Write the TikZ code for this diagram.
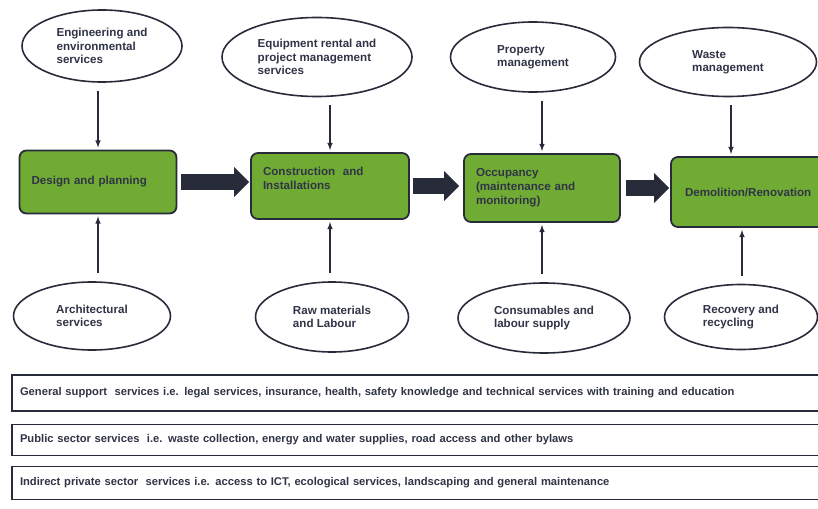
\documentclass[tikz,border=0pt]{standalone}
\usepackage{fontspec}
\setmainfont{Liberation Sans}
\usetikzlibrary{shapes.geometric,arrows.meta}
\definecolor{stagegreen}{RGB}{112,172,52}
\definecolor{inkline}{RGB}{40,44,58}
\definecolor{inktext}{RGB}{48,52,70}
\begin{document}
\begin{tikzpicture}[x=1pt,y=-1pt]
  \tikzstyle{every node}=[font=\bfseries\fontsize{11.6}{13.5}\selectfont, text=inktext]
  \tikzstyle{ell}=[ellipse, draw=inkline, line width=1.6pt, inner sep=0pt, align=left, fill=white]
  \tikzstyle{stage}=[rectangle, rounded corners=7pt, draw=inkline, fill=stagegreen, line width=1.8pt,
    inner xsep=12pt, inner ysep=0pt, align=left, font=\bfseries\fontsize{11.6}{14}\selectfont]
  \tikzstyle{band}=[rectangle, draw=inkline, line width=1.8pt, inner xsep=8pt, inner ysep=0pt,
    text width=802pt, align=left, font=\bfseries\fontsize{11.2}{13}\selectfont]
  \tikzstyle{feed}=[-latex, draw=inkline, line width=1.5pt, shorten <=8pt, shorten >=2pt]
  \tikzstyle{flow}=[-{Triangle[length=15pt,width=29pt]}, draw=inkline, line width=16pt]

  \path[use as bounding box, clip] (0,0) rectangle (818,508);
  \fill[white] (0,0) rectangle (818,508);

  \node[stage, text width=133pt, minimum height=63pt] (design) at (98,182) {Design and planning};
  \node[stage, text width=134pt, minimum height=66pt] (constr) at (330,186) {Construction~ and\\Installations\\[2pt]\mbox{}};
  \node[stage, text width=132pt, minimum height=68pt] (occup) at (542,188) {Occupancy\\(maintenance and\\monitoring)};
  \node[stage, text width=142pt, minimum height=70pt, inner xsep=14pt] (demo) at (756,192) {Demolition/Renovation};

  \node[ell, minimum width=160pt, minimum height=72pt] (eng) at (102,46) {Engineering and\\environmental\\services};
  \node[ell, minimum width=190pt, minimum height=79pt] (equip) at (317,57) {Equipment rental and\\project management\\services};
  \node[ell, minimum width=165pt, minimum height=70pt] (prop) at (533,57) {Property\\management};
  \node[ell, minimum width=177pt, minimum height=69pt] (waste) at (728,62) {Waste\\management};

  \node[ell, minimum width=157pt, minimum height=68pt] (arch) at (92,316) {Architectural\\services};
  \node[ell, minimum width=153pt, minimum height=70pt] (raw) at (332,317) {Raw materials\\and Labour};
  \node[ell, minimum width=172pt, minimum height=70pt] (cons) at (544,318) {Consumables and\\labour supply};
  \node[ell, minimum width=153pt, minimum height=65pt] (recov) at (741,317) {Recovery and\\recycling};

  \node[band, minimum height=36pt] (general) at (421,393) {General support~ services i.e. legal services, insurance, health, safety knowledge and technical services with training and education};
  \node[band, minimum height=31pt] (public) at (421,440) {Public sector services~ i.e. waste collection, energy and water supplies, road access and other bylaws};
  \node[band, minimum height=33pt] (indirect) at (421,483) {Indirect private sector~ services i.e. access to ICT, ecological services, landscaping and general maintenance};

  \coordinate (demotop) at ([xshift=-25pt]demo.north);
  \coordinate (demobot) at ([xshift=-14pt]demo.south);

  \draw[flow, shorten <=4pt, shorten >=1pt] (design) -- (design -| constr.west);
  \draw[flow, shorten <=3pt, shorten >=4pt] (constr) -- (constr -| occup.west);
  \draw[flow, shorten <=5pt, shorten >=1pt] (occup) -- (occup -| demo.west);

  \draw[feed] (eng.south -| design) -- (design.north);
  \draw[feed] (equip.south -| constr) -- (constr.north);
  \draw[feed] (prop.south -| occup) -- (occup.north);
  \draw[feed] (waste.south -| demotop) -- (demotop);

  \draw[feed] (arch.north -| design) -- (design.south);
  \draw[feed] (raw.north -| constr) -- (constr.south);
  \draw[feed] (cons.north -| occup) -- (occup.south);
  \draw[feed] (recov.north -| demobot) -- (demobot);
\end{tikzpicture}
\end{document}
